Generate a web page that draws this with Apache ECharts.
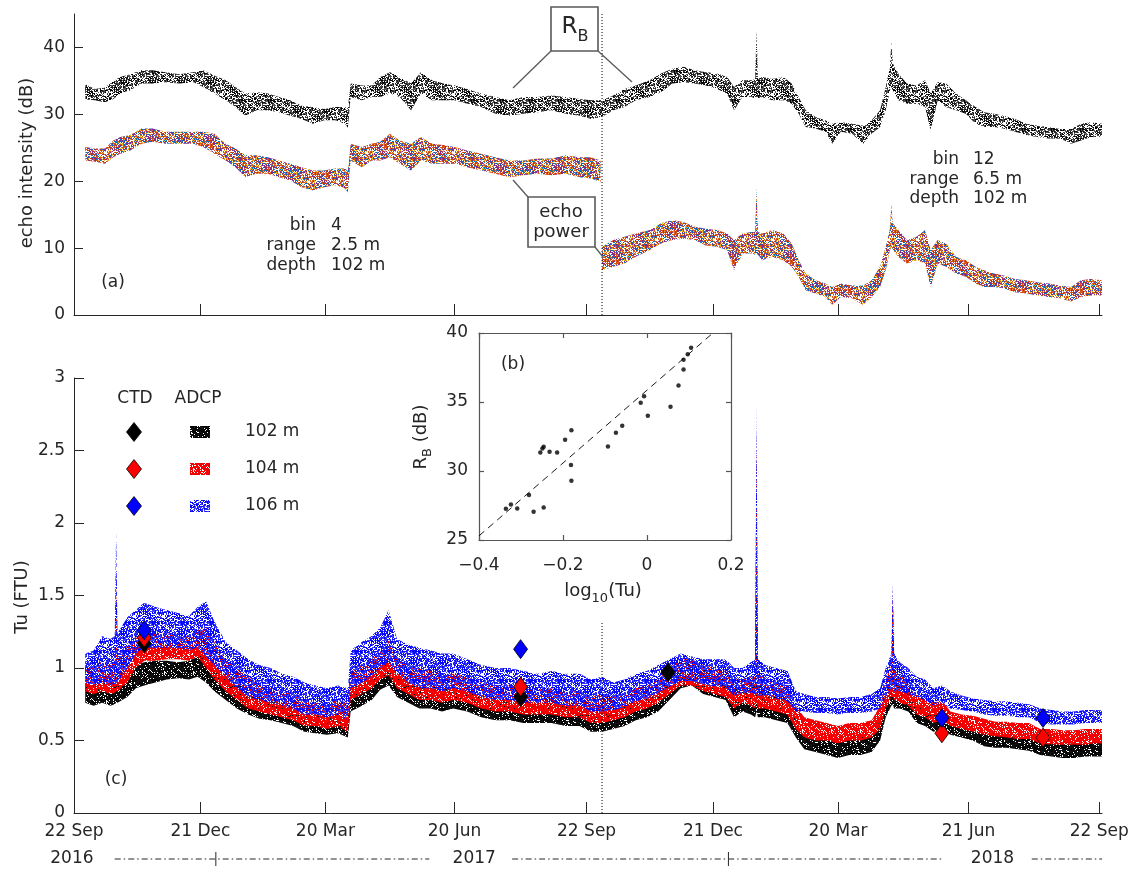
<!DOCTYPE html>
<html>
<head>
<meta charset="utf-8">
<title>Echo intensity and turbidity</title>
<script src="https://cdn.jsdelivr.net/npm/echarts@6.0.0/dist/echarts.min.js"></script>
<style>
html, body { margin: 0; padding: 0; background: #fff; }
#chart { width: 1132px; height: 871px; }
</style>
</head>
<body>
<div id="chart"></div>
<script>
const ink = '#262626'
const fam = '"DejaVu Sans", "Noto Sans", sans-serif'

// time axis in days since 22 Sep 2016
const dayMax = 732
const tickDays = [90, 179, 271, 365, 455, 544, 637, 730]
const labelDays = [0, 90, 179, 271, 365, 455, 544, 637, 730]
const dateLabels = ['22 Sep', '21 Dec', '20 Mar', '20 Jun', '22 Sep', '21 Dec', '20 Mar', '21 Jun', '22 Sep']
const years = ['2016', '2017', '2018']
const yearLabelDays = [-1.5, 285, 654]
const yearLineSpans = [[29, 253], [312, 618], [682, 732]]
const yearStartDays = [101, 466]
const binSwitchDay = 376
const echoTicks = [0, 10, 20, 30, 40]

// (a) R_B, rows: [day, low, high] of the scatter band (dB)
const rbBand = [
  [8, 32.2, 34.5], [15, 32.1, 33.8], [22, 31.8, 34.0], [28, 32.3, 35.0], [33, 33.1, 35.6], [40, 33.6, 36.0],
  [48, 34.6, 36.6], [56, 34.6, 36.6], [65, 34.8, 36.3], [75, 34.6, 36.0], [85, 34.8, 36.3], [92, 34.1, 36.6],
  [100, 33.1, 35.8], [108, 32.1, 35.1], [115, 31.1, 34.1], [122, 29.8, 33.1], [130, 30.6, 33.3], [138, 30.6, 33.1],
  [146, 30.3, 32.6], [154, 29.8, 32.1], [162, 29.3, 31.3], [170, 28.6, 31.1], [178, 29.1, 30.8], [186, 29.1, 31.1],
  [193, 28.6, 31.1], [195, 28.0, 31.0], [197, 32.6, 34.6], [205, 32.1, 34.3], [212, 32.6, 34.3], [218, 32.6, 35.6],
  [225, 33.1, 36.3], [232, 32.6, 35.6], [240, 30.6, 34.6], [247, 33.1, 36.3], [255, 32.1, 35.1], [263, 32.1, 34.6],
  [271, 32.1, 34.3], [280, 31.6, 33.8], [290, 31.1, 33.1], [300, 30.1, 32.6], [310, 29.8, 32.1], [320, 30.1, 32.6],
  [330, 30.3, 32.6], [340, 30.6, 32.8], [350, 30.1, 32.6], [360, 29.8, 32.3], [368, 29.3, 32.1], [376, 29.6, 32.1],
  [384, 30.6, 32.8], [392, 31.1, 33.8], [400, 32.1, 34.3], [410, 32.6, 35.1], [418, 33.3, 36.1], [426, 34.6, 36.8],
  [434, 34.8, 37.1], [442, 34.6, 36.6], [450, 34.3, 36.3], [458, 33.8, 36.1], [465, 33.1, 35.6], [470, 30.6, 34.1],
  [476, 32.6, 35.1], [482, 32.6, 35.1], [485, 32.4, 35.3], [486, 32.6, 42.5], [487, 32.4, 35.3], [490, 32.6, 35.6],
  [497, 32.1, 35.3], [505, 32.1, 35.6], [511, 31.6, 34.6], [516, 30.1, 32.6], [521, 28.1, 30.6], [528, 27.9, 29.6],
  [535, 27.4, 29.1], [540, 25.6, 28.6], [546, 27.4, 28.8], [554, 27.1, 28.6], [562, 25.6, 28.3], [568, 27.1, 29.1],
  [574, 28.1, 30.6], [578, 30.6, 34.1], [581, 33.6, 37.0], [582, 34.1, 41.0], [583, 33.6, 37.6], [587, 32.1, 36.1],
  [593, 31.6, 34.6], [600, 31.6, 34.3], [606, 31.1, 35.1], [610, 27.6, 33.1], [615, 32.1, 34.8], [621, 31.1, 34.6],
  [628, 30.6, 33.1], [635, 30.1, 32.1], [642, 28.6, 31.1], [648, 28.1, 30.3], [655, 28.1, 30.1], [662, 27.9, 29.8],
  [670, 27.4, 29.3], [678, 26.9, 28.6], [686, 26.6, 28.3], [694, 26.4, 28.1], [702, 26.4, 27.8], [710, 25.6, 27.8],
  [717, 26.1, 28.6], [724, 26.6, 28.8], [732, 26.6, 28.6]
]

// (a) echo power, bin 4 (first year) and bin 12 (second year)
const echoBin4Band = [
  [8, 23.1, 25.1], [15, 22.9, 24.9], [22, 22.6, 24.9], [28, 23.6, 26.1], [33, 24.1, 26.6], [40, 24.6, 26.9],
  [48, 25.6, 27.9], [56, 25.9, 27.9], [65, 25.6, 27.4], [75, 25.6, 27.4], [85, 25.6, 27.4], [92, 25.1, 27.4],
  [100, 24.1, 27.1], [108, 23.1, 25.6], [115, 22.1, 24.9], [122, 20.6, 23.9], [130, 21.1, 23.9], [138, 21.1, 23.6],
  [146, 20.6, 23.1], [154, 20.1, 22.6], [162, 19.1, 22.1], [170, 18.6, 21.6], [178, 19.1, 21.6], [186, 19.4, 21.9],
  [193, 18.9, 21.9], [195, 18.3, 21.5], [197, 23.1, 25.6], [205, 22.1, 25.1], [212, 23.1, 25.6], [218, 23.1, 25.9],
  [225, 23.6, 27.1], [232, 22.6, 26.1], [240, 21.6, 25.6], [247, 23.1, 26.6], [255, 22.6, 25.6], [263, 22.6, 25.4],
  [271, 22.6, 25.1], [280, 22.1, 24.6], [290, 21.6, 24.1], [300, 21.1, 23.6], [310, 20.6, 23.1], [320, 20.9, 23.1],
  [330, 21.1, 23.4], [340, 20.9, 23.4], [350, 21.1, 23.9], [360, 20.6, 23.6], [368, 20.4, 23.6], [375, 19.9, 23.1]
]
const echoBin12Band = [
  [376, 6.7, 10.2], [384, 7.2, 11.2], [392, 7.7, 11.7], [400, 8.7, 12.2], [410, 9.7, 12.7], [418, 10.7, 13.7],
  [426, 11.2, 14.2], [434, 11.4, 13.9], [442, 11.2, 13.2], [450, 10.4, 12.9], [458, 10.2, 12.7], [465, 9.7, 12.2],
  [470, 6.7, 11.2], [476, 9.2, 12.2], [482, 9.2, 12.4], [485, 9.0, 12.4], [486, 9.2, 19.1], [487, 9.0, 12.4],
  [490, 8.2, 12.2], [497, 8.7, 12.7], [505, 8.2, 12.2], [511, 7.2, 10.7], [516, 5.7, 8.2], [521, 3.7, 6.2],
  [528, 3.2, 5.2], [535, 2.7, 4.7], [540, 1.5, 4.2], [546, 2.7, 4.7], [554, 2.5, 4.4], [562, 1.5, 4.4],
  [568, 2.7, 5.2], [574, 4.2, 7.2], [578, 6.7, 10.2], [581, 9.6, 12.9], [582, 10.2, 16.7], [583, 9.8, 13.7],
  [587, 8.7, 12.7], [593, 7.7, 11.2], [600, 8.2, 11.7], [606, 7.7, 12.7], [610, 4.2, 9.7], [615, 7.7, 11.2],
  [621, 7.2, 10.7], [628, 6.2, 8.7], [635, 5.7, 8.2], [642, 4.7, 7.2], [648, 4.2, 6.7], [655, 4.2, 6.2],
  [662, 4.0, 5.9], [670, 3.4, 5.4], [678, 3.2, 5.2], [686, 2.9, 4.9], [694, 2.7, 4.7], [702, 2.5, 4.4],
  [710, 2.0, 4.2], [717, 2.7, 5.2], [724, 2.9, 5.4], [732, 2.9, 5.2]
]

// (c) ADCP turbidity, rows: [day, low, high] (FTU)
const tu102Band = [
  [8, .76, .90], [14, .74, .88], [20, .76, .92], [26, .74, .90], [29, .75, .90], [30, .76, 1.0], [31, .76, .92],
  [38, .80, .96], [44, .86, 1.02], [50, .88, 1.04], [58, .90, 1.05], [66, .92, 1.05], [74, .93, 1.04], [82, .92, 1.05],
  [88, .94, 1.08], [94, .90, 1.10], [100, .84, 1.02], [108, .78, .95], [116, .72, .90], [124, .68, .85], [132, .65, .80],
  [140, .64, .78], [148, .62, .76], [156, .60, .74], [164, .56, .70], [172, .55, .68], [180, .54, .66], [188, .55, .68],
  [195, .52, .66], [197, .70, .85], [205, .74, .90], [212, .78, .92], [218, .85, 1.00], [224, .88, 1.05], [230, .80, .95],
  [238, .76, .92], [246, .72, .90], [254, .72, .88], [262, .70, .86], [270, .72, .86], [280, .70, .84], [290, .66, .80],
  [300, .64, .78], [310, .64, .78], [320, .62, .76], [330, .62, .75], [340, .62, .76], [350, .60, .74], [360, .60, .74],
  [368, .56, .70], [376, .56, .72], [384, .58, .72], [392, .60, .74], [400, .64, .78], [408, .66, .80], [416, .70, .86],
  [424, .78, .95], [432, .86, 1.04], [440, .88, 1.06], [448, .82, 1.00], [456, .80, .96], [464, .78, .94], [470, .66, .86],
  [476, .70, .86], [482, .68, .88], [485, .66, .90], [486, .70, 1.90], [487, .66, .90], [492, .66, .85], [500, .64, .84],
  [508, .62, .80], [514, .52, .66], [520, .44, .58], [528, .42, .54], [536, .40, .52], [544, .38, .50], [552, .40, .52],
  [560, .40, .52], [568, .42, .54], [574, .50, .64], [578, .66, .84], [582, .74, .95], [583, .75, 1.40], [584, .72, .95],
  [588, .72, .90], [594, .70, .86], [600, .62, .76], [606, .60, .74], [612, .56, .70], [618, .58, .72], [624, .54, .64],
  [632, .52, .62], [640, .50, .60], [648, .46, .56], [656, .45, .55], [664, .45, .55], [672, .44, .54], [680, .43, .53],
  [688, .40, .50], [696, .39, .48], [704, .38, .48], [712, .38, .48], [720, .39, .48], [726, .39, .49], [732, .39, .49]
]
const tu104Band = [
  [8, .84, 1.02], [14, .82, 1.00], [20, .84, 1.05], [26, .82, 1.02], [29, .83, 1.04], [30, .84, 1.60], [31, .84, 1.06],
  [38, .90, 1.15], [44, 1.00, 1.22], [50, 1.05, 1.26], [58, 1.05, 1.25], [66, 1.06, 1.24], [74, 1.06, 1.22], [82, 1.05, 1.22],
  [88, 1.08, 1.26], [94, 1.00, 1.28], [100, .92, 1.18], [108, .84, 1.05], [116, .78, 1.00], [124, .72, .94], [132, .70, .88],
  [140, .68, .86], [148, .66, .84], [156, .64, .82], [164, .60, .78], [172, .60, .76], [180, .58, .76], [188, .60, .78],
  [195, .56, .76], [197, .78, .98], [205, .82, 1.02], [212, .86, 1.06], [218, .92, 1.12], [224, .95, 1.20], [230, .86, 1.06],
  [238, .82, 1.02], [246, .78, 1.00], [254, .78, .98], [262, .76, .96], [270, .78, .96], [280, .76, .94], [290, .72, .90],
  [300, .70, .88], [310, .70, .88], [320, .68, .86], [330, .68, .85], [340, .68, .86], [350, .66, .84], [360, .66, .84],
  [368, .62, .80], [376, .62, .82], [384, .64, .80], [392, .66, .82], [400, .70, .86], [408, .72, .88], [416, .76, .92],
  [424, .82, 1.00], [432, .88, 1.06], [440, .88, 1.06], [448, .84, 1.02], [456, .82, 1.00], [464, .80, .98], [470, .72, .92],
  [476, .76, .92], [482, .74, .94], [485, .72, .96], [486, .76, 2.60], [487, .72, .96], [492, .72, .92], [500, .70, .90],
  [508, .68, .88], [514, .58, .74], [520, .52, .66], [528, .50, .64], [536, .50, .62], [544, .48, .60], [552, .50, .62],
  [560, .50, .62], [568, .52, .64], [574, .58, .74], [578, .72, .92], [582, .80, 1.02], [583, .80, 1.50], [584, .78, 1.02],
  [588, .76, .96], [594, .74, .92], [600, .68, .82], [606, .66, .80], [612, .62, .76], [618, .64, .78], [624, .60, .70],
  [632, .58, .68], [640, .56, .67], [648, .54, .65], [656, .53, .63], [664, .52, .63], [672, .51, .62], [680, .51, .62],
  [688, .48, .58], [696, .47, .58], [704, .47, .57], [712, .47, .57], [720, .47, .58], [726, .48, .58], [732, .48, .58]
]
const tu106Band = [
  [8, .90, 1.10], [14, .88, 1.12], [20, .90, 1.22], [26, .88, 1.20], [29, .89, 1.22], [30, .90, 1.94], [31, .90, 1.24],
  [38, 1.00, 1.35], [44, 1.10, 1.40], [50, 1.14, 1.45], [58, 1.14, 1.42], [66, 1.14, 1.40], [74, 1.14, 1.38], [82, 1.12, 1.36],
  [88, 1.14, 1.42], [94, 1.08, 1.46], [100, 1.02, 1.32], [108, .94, 1.18], [116, .86, 1.12], [124, .80, 1.06], [132, .78, 1.02],
  [140, .76, 1.00], [148, .74, .96], [156, .72, .94], [164, .68, .90], [172, .68, .88], [180, .66, .86], [188, .68, .88],
  [195, .64, .86], [197, .86, 1.12], [205, .90, 1.18], [212, .94, 1.22], [218, 1.00, 1.28], [224, 1.04, 1.40], [230, .96, 1.20],
  [238, .90, 1.16], [246, .86, 1.14], [254, .86, 1.12], [262, .84, 1.10], [270, .86, 1.10], [280, .84, 1.06], [290, .80, 1.02],
  [300, .78, 1.00], [310, .78, 1.00], [320, .76, .98], [330, .76, .96], [340, .76, .98], [350, .74, .96], [360, .74, .96],
  [368, .70, .92], [376, .70, .94], [384, .71, .90], [392, .73, .92], [400, .77, .96], [408, .79, .98], [416, .83, 1.02],
  [424, .87, 1.06], [432, .91, 1.10], [440, .91, 1.08], [448, .89, 1.06], [456, .87, 1.06], [464, .87, 1.06], [470, .81, 1.00],
  [476, .83, 1.00], [482, .83, 1.04], [485, .81, 1.06], [486, .83, 2.80], [487, .81, 1.06], [492, .81, 1.02], [500, .79, 1.00],
  [508, .77, .98], [514, .70, .84], [520, .70, .82], [528, .69, .80], [536, .69, .80], [544, .68, .79], [552, .69, .80],
  [560, .69, .80], [568, .70, .82], [574, .72, .86], [578, .80, 1.00], [582, .86, 1.10], [583, .86, 1.58], [584, .84, 1.10],
  [588, .84, 1.04], [594, .82, 1.00], [600, .80, .94], [606, .78, .92], [612, .74, .86], [618, .76, .88], [624, .72, .84],
  [632, .71, .81], [640, .70, .79], [648, .68, .78], [656, .67, .77], [664, .67, .77], [672, .66, .76], [680, .66, .75],
  [688, .62, .72], [696, .61, .71], [704, .61, .70], [712, .61, .70], [720, .62, .71], [726, .62, .71], [732, .62, .71]
]

// (c) CTD casts
const ctdDays = [50, 318, 423, 618, 690]
const ctd102 = [1.17, 0.80, 0.97, null, null]
const ctd104 = [1.21, 0.87, null, 0.55, 0.52]
const ctd106 = [1.26, 1.13, null, 0.655, 0.655]
const depths = ['102 m', '104 m', '106 m']
const depthColors = ['#000000', '#ff0000', '#0000ff']

// (b) R_B against log10(Tu)
const insetLogTu = [-0.336, -0.324, -0.309, -0.281, -0.270, -0.246, -0.254, -0.249, -0.246, -0.232, -0.214, -0.195, -0.180, -0.181,
  -0.180, -0.093, -0.074, -0.059, -0.015, -0.007, 0.002, 0.056, 0.075, 0.087, 0.087, 0.097, 0.105]
const insetRB = [27.27, 27.58, 27.29, 28.26, 27.05, 27.36, 31.34, 31.63, 31.75, 31.39, 31.34, 32.26, 32.96, 30.43,
  29.29, 31.78, 32.77, 33.27, 34.94, 35.42, 34.0, 34.65, 36.19, 37.35, 38.07, 38.46, 38.94]
const fitLogTu = [-0.4, 0.157]
const fitRB = [25.3, 40]

// fine speckle texture for the dense scatter bands (a fill style, not data)
function speckle(colors, keep) {
  const n = 29
  const cv = document.createElement('canvas')
  cv.width = cv.height = n
  const ctx = cv.getContext('2d')
  for (let i = 0; i < n; i++) {
    for (let j = 0; j < n; j++) {
      const s = Math.sin(i * 12.9898 + j * 78.233) * 43758.5453
      const h = s - Math.floor(s)
      if (h >= keep) continue
      ctx.fillStyle = colors[Math.floor(h / keep * colors.length) % colors.length]
      ctx.fillRect(i, j, 1, 1)
    }
  }
  return { image: cv, repeat: 'repeat' }
}
const fillRB = speckle(['#000000', '#222222', '#555555'], 0.62)
const fillEcho = speckle(['#7E2F8E', '#D95319', '#0072BD', '#7E2F8E', '#D95319', '#EDB120'], 0.72)
const fillTu = [
  speckle(['#000000', '#111111'], 0.88),
  speckle(['#ff0000', '#ee0000'], 0.84),
  speckle(['#0000ff', '#1010ff', '#4040ff'], 0.67)
]

function band(rows, axisIndex, fill, z) {
  return {
    type: 'custom',
    xAxisIndex: axisIndex,
    yAxisIndex: axisIndex,
    z: z,
    silent: true,
    clip: true,
    data: rows,
    encode: { x: 0, y: [1, 2] },
    renderItem: (params, api) => {
      if (params.dataIndex !== 0) return null
      const pts = rows.map(r => api.coord([r[0], r[2]]))
      for (let i = rows.length - 1; i >= 0; i--) pts.push(api.coord([rows[i][0], rows[i][1]]))
      return { type: 'polygon', shape: { points: pts }, style: { fill: fill } }
    }
  }
}

function ctdSeries(vals, color) {
  return {
    type: 'scatter',
    xAxisIndex: 1,
    yAxisIndex: 1,
    z: 6,
    symbol: 'diamond',
    symbolSize: [14, 19],
    itemStyle: { color: color, borderColor: '#000', borderWidth: 0.8, opacity: 1 },
    data: ctdDays.map((d, i) => [d, vals[i]]).filter(p => p[1] != null)
  }
}

const axisLineStyle = { color: ink, width: 1 }
const labelStyle = { color: ink, fontSize: 17, fontFamily: fam }
const insetLine = { color: '#555555', width: 1.2 }
const minus = v => (Math.abs(v) < 1e-9 ? '0' : (v < 0 ? '\u2212' + Math.abs(v).toFixed(1) : v.toFixed(1)))

const option = {
  animation: false,
  backgroundColor: '#fff',
  grid: [
    { left: 74, top: 14, width: 1028, height: 301 },
    { left: 74, top: 378, width: 1028, height: 435 },
    { left: 479, top: 333, width: 252, height: 207 }
  ],
  xAxis: [
    {
      gridIndex: 0, type: 'value', min: 0, max: dayMax,
      axisLine: { show: true, onZero: false, lineStyle: axisLineStyle },
      axisTick: { show: true, inside: true, length: 11, customValues: tickDays, lineStyle: axisLineStyle },
      axisLabel: { show: false },
      splitLine: { show: false }
    },
    {
      gridIndex: 1, type: 'value', min: 0, max: dayMax,
      axisLine: { show: true, onZero: false, lineStyle: axisLineStyle },
      axisTick: { show: true, inside: true, length: 11, customValues: tickDays, lineStyle: axisLineStyle },
      axisLabel: Object.assign({
        customValues: labelDays, margin: 10,
        formatter: v => {
          let k = 0
          labelDays.forEach((d, i) => { if (Math.abs(d - v) < Math.abs(labelDays[k] - v)) k = i })
          return dateLabels[k]
        }
      }, labelStyle),
      splitLine: { show: false }
    },
    {
      gridIndex: 2, type: 'value', min: -0.4, max: 0.2, interval: 0.2,
      axisLine: { show: true, onZero: false, lineStyle: insetLine },
      axisTick: { show: true, inside: true, length: 5, lineStyle: insetLine },
      axisLabel: Object.assign({ margin: 17, formatter: minus }, labelStyle),
      splitLine: { show: false }
    },
    {
      gridIndex: 2, type: 'value', position: 'top', min: -0.4, max: 0.2, interval: 0.2,
      axisLine: { show: true, onZero: false, lineStyle: insetLine },
      axisTick: { show: true, inside: true, length: 5, lineStyle: insetLine },
      axisLabel: { show: false },
      splitLine: { show: false }
    }
  ],
  yAxis: [
    {
      gridIndex: 0, type: 'value', min: 0, max: 45,
      axisLine: { show: true, onZero: false, lineStyle: axisLineStyle },
      axisTick: { show: true, inside: true, length: 9, customValues: echoTicks, lineStyle: axisLineStyle },
      axisLabel: Object.assign({ customValues: echoTicks, margin: 9 }, labelStyle),
      splitLine: { show: false }
    },
    {
      gridIndex: 1, type: 'value', min: 0, max: 3, interval: 0.5,
      axisLine: { show: true, onZero: false, lineStyle: axisLineStyle },
      axisTick: { show: true, inside: true, length: 10, lineStyle: axisLineStyle },
      axisLabel: Object.assign({ margin: 9 }, labelStyle),
      splitLine: { show: false }
    },
    {
      gridIndex: 2, type: 'value', min: 25, max: 40, interval: 5,
      axisLine: { show: true, onZero: false, lineStyle: insetLine },
      axisTick: { show: true, inside: true, length: 5, lineStyle: insetLine },
      axisLabel: Object.assign({ margin: 11 }, labelStyle),
      splitLine: { show: false }
    },
    {
      gridIndex: 2, type: 'value', position: 'right', min: 25, max: 40, interval: 5,
      axisLine: { show: true, onZero: false, lineStyle: insetLine },
      axisTick: { show: true, inside: true, length: 5, lineStyle: insetLine },
      axisLabel: { show: false },
      splitLine: { show: false }
    }
  ],
  series: [
    band(rbBand, 0, fillRB, 2),
    band(echoBin4Band, 0, fillEcho, 2),
    band(echoBin12Band, 0, fillEcho, 2),
    {
      type: 'line', xAxisIndex: 0, yAxisIndex: 0, z: 4, symbol: 'none', silent: true,
      data: [[binSwitchDay, 0], [binSwitchDay, 45]],
      lineStyle: { color: '#000', width: 1, type: [1, 2] }
    },
    band(tu102Band, 1, fillTu[0], 2),
    band(tu104Band, 1, fillTu[1], 3),
    band(tu106Band, 1, fillTu[2], 4),
    {
      type: 'line', xAxisIndex: 1, yAxisIndex: 1, z: 4, symbol: 'none', silent: true,
      data: [[binSwitchDay, 0], [binSwitchDay, 1.32]],
      lineStyle: { color: '#000', width: 1, type: [1, 2] }
    },
    ctdSeries(ctd102, depthColors[0]),
    ctdSeries(ctd104, depthColors[1]),
    ctdSeries(ctd106, depthColors[2]),
    {
      type: 'line', xAxisIndex: 2, yAxisIndex: 2, z: 4, symbol: 'none', silent: true,
      data: fitLogTu.map((x, i) => [x, fitRB[i]]),
      lineStyle: { color: '#000', width: 0.9, type: [7, 5] }
    },
    {
      type: 'scatter', xAxisIndex: 2, yAxisIndex: 2, z: 5, symbolSize: 4.5, silent: true,
      itemStyle: { color: '#000' },
      data: insetLogTu.map((x, i) => [x, insetRB[i]])
    }
  ]
}

const chart = echarts.init(document.getElementById('chart'))
chart.setOption(option)

// annotations, legend, axis names and the year row
function txt(x, y, s, size, align, extra) {
  return {
    type: 'text', x: x, y: y, z: 20,
    style: Object.assign({
      text: s, fill: ink, font: size + 'px ' + fam,
      align: align, textAlign: align, verticalAlign: 'middle', textVerticalAlign: 'middle'
    }, extra || {})
  }
}

// text with a subscript, built from pieces laid out with measured widths
const measure = document.createElement('canvas').getContext('2d')
function widthOf(s, size) {
  measure.font = size + 'px ' + fam
  return measure.measureText(s).width
}
function subscripted(parts, x, y, rotation) {
  const total = parts.reduce((w, p) => w + widthOf(p[0], p[1]), 0)
  let cx = -total / 2
  const children = parts.map(p => {
    const el = txt(cx, p[2], p[0], p[1], 'left')
    cx += widthOf(p[0], p[1])
    return el
  })
  return { type: 'group', x: x, y: y, rotation: rotation || 0, z: 20, children: children }
}

const boxLine = { stroke: '#595959', lineWidth: 1.3 }
const g = []

g.push({ type: 'rect', z: 19, shape: { x: 551, y: 7, width: 47, height: 44 }, style: { fill: '#fff', stroke: '#595959', lineWidth: 1.6 } })
g.push(subscripted([['R', 23, 0], ['B', 16, 10]], 575, 27))
g.push({ type: 'line', z: 19, shape: { x1: 551, y1: 51, x2: 513, y2: 88 }, style: boxLine })
g.push({ type: 'line', z: 19, shape: { x1: 598, y1: 51, x2: 632, y2: 82 }, style: boxLine })

g.push({ type: 'rect', z: 19, shape: { x: 528, y: 197, width: 67, height: 50 }, style: { fill: '#fff', stroke: '#595959', lineWidth: 1.6 } })
g.push(txt(561, 212, 'echo', 18, 'center'))
g.push(txt(561, 232, 'power', 18, 'center'))
g.push({ type: 'line', z: 19, shape: { x1: 528, y1: 197, x2: 513, y2: 180 }, style: boxLine })
g.push({ type: 'line', z: 19, shape: { x1: 595, y1: 247, x2: 603, y2: 257 }, style: boxLine })

const bin4 = [['bin', '4'], ['range', '2.5 m'], ['depth', '102 m']]
const bin12 = [['bin', '12'], ['range', '6.5 m'], ['depth', '102 m']]
bin4.forEach((r, i) => {
  g.push(txt(316, 226 + 20 * i, r[0], 17, 'right'))
  g.push(txt(331, 226 + 20 * i, r[1], 17, 'left'))
})
bin12.forEach((r, i) => {
  g.push(txt(959, 160 + 19.5 * i, r[0], 17, 'right'))
  g.push(txt(973, 160 + 19.5 * i, r[1], 17, 'left'))
})

g.push(txt(113, 283, '(a)', 17, 'center'))
g.push(txt(513, 365, '(b)', 17, 'center'))
g.push(txt(116, 780, '(c)', 17, 'center'))

g.push(subscripted([['echo intensity (dB)', 18, 0]], 27, 163, Math.PI / 2))
g.push(subscripted([['Tu (FTU)', 18, 0]], 22, 597, Math.PI / 2))
g.push(subscripted([['R', 18, 0], ['B', 13, 7], [' (dB)', 18, 0]], 421, 437, Math.PI / 2))
g.push(subscripted([['log', 18, 0], ['10', 13, 8], ['(Tu)', 18, 0]], 603, 591))

// legend of panel (c)
g.push(txt(135, 399, 'CTD', 17, 'center'))
g.push(txt(198, 399, 'ADCP', 17, 'center'))
depths.forEach((name, i) => {
  const y = 432 + 37 * i
  g.push({
    type: 'polygon', z: 20,
    shape: { points: [[134, y - 9.5], [141.5, y], [134, y + 9.5], [126.5, y]] },
    style: { fill: depthColors[i], stroke: '#000', lineWidth: 0.8 }
  })
  g.push({ type: 'rect', z: 20, shape: { x: 190, y: y - 6, width: 20, height: 12 }, style: { fill: fillTu[i] } })
  g.push(txt(245, y, name, 17, 'left'))
})

// year row under the date labels
const px = d => chart.convertToPixel({ xAxisIndex: 1 }, d)
const yearY = 859
years.forEach((s, i) => g.push(txt(px(yearLabelDays[i]), yearY, s, 17, 'center')))
yearLineSpans.forEach(sp => {
  g.push({
    type: 'line', z: 20,
    shape: { x1: px(sp[0]), y1: yearY, x2: px(sp[1]), y2: yearY },
    style: { stroke: ink, lineWidth: 1, lineDash: [6, 3, 1.5, 3] }
  })
})
yearStartDays.forEach(d => {
  g.push({ type: 'line', z: 20, shape: { x1: px(d), y1: yearY - 7, x2: px(d), y2: yearY + 7 }, style: { stroke: ink, lineWidth: 1 } })
})

chart.setOption({ graphic: g })
</script>
</body>
</html>
